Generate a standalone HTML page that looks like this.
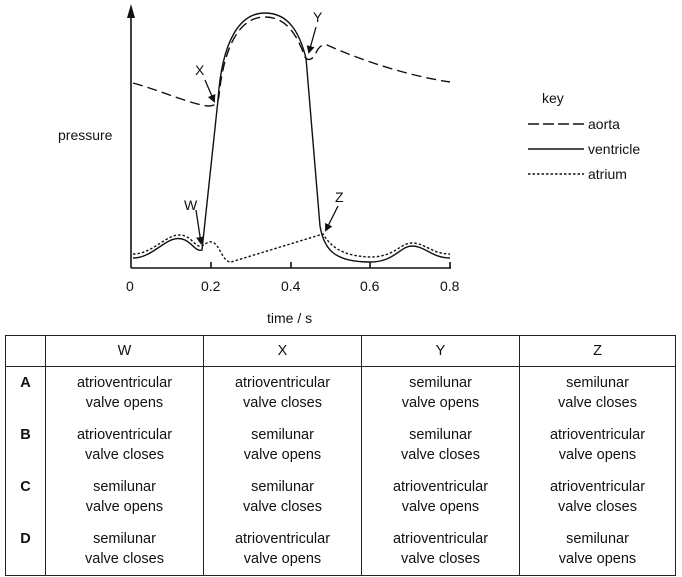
<!DOCTYPE html>
<html><head><meta charset="utf-8"><style>
body{margin:0;background:#fff;width:682px;height:577px;overflow:hidden;font-family:"Liberation Sans",Arial,sans-serif;color:#111}
svg text{font-family:"Liberation Sans",Arial,sans-serif;fill:#111}
table{position:absolute;left:5px;top:335px;border-collapse:collapse;font-size:14.5px;border:1px solid #222}
td{border-left:1px solid #222;border-right:1px solid #222;text-align:center;line-height:20px;padding:6px 0 0 0;vertical-align:top;height:46px}
tr.h td{border-bottom:1px solid #222;vertical-align:middle;padding:0;height:30px}
td.l{font-weight:bold}
</style></head><body>
<svg width="682" height="330" style="position:absolute;left:0;top:0">
<g stroke="#111" stroke-width="1.6" fill="none">
<line x1="131" y1="268" x2="131" y2="14"/>
<path d="M131,4 L127,18 L135,18 z" fill="#111" stroke="none"/>
<line x1="131" y1="268" x2="451" y2="268"/>
<line x1="211" y1="268" x2="211" y2="262"/><line x1="291" y1="268" x2="291" y2="262"/><line x1="370" y1="268" x2="370" y2="262"/><line x1="450" y1="268" x2="450" y2="262"/>
</g>
<defs><marker id="ar" markerWidth="8" markerHeight="8" refX="6" refY="4" orient="auto" markerUnits="userSpaceOnUse"><path d="M0,0 L8,4 L0,8 z" fill="#111"/></marker></defs>
<g fill="none" stroke="#111" stroke-width="1.4">
<path d="M133,258 C155,258 168,232 185,240 C193,244 196,252 202,250 L218,100 C222,40 240,13 265,13 C290,13 300,35 306,58 L320,226 C324,250 335,262 370,262 C395,262 400,246 412,246 C425,246 432,258 450,258"/>
<path stroke-dasharray="2.5,2" d="M133,254 C155,254 168,230 185,236 C193,239 196,248 202,246 C206,244 208,241 212,242 C220,244 222,262 231,262 L323,234 C330,245 340,256 370,257 C395,257 400,243 412,243 C425,243 432,254 450,254"/>
<path stroke-dasharray="10,5" d="M133,83 C165,92 190,104 208,106 C214,106 218,104 219,96 C224,45 240,17 265,17 C288,17 298,38 305,57 C307,61 312,60 315,55 C318,48 321,44 327,45 C365,62 410,76 450,82"/>
</g>
<g stroke="#111" stroke-width="1.3" marker-end="url(#ar)">
<line x1="205" y1="80" x2="214" y2="101"/>
<line x1="316" y1="27" x2="309" y2="52"/>
<line x1="196" y1="210" x2="201" y2="243"/>
<line x1="338" y1="206" x2="326" y2="230"/>
</g>
<g font-size="14">
<text x="195" y="75">X</text><text x="313" y="22">Y</text><text x="184" y="210">W</text><text x="335" y="202">Z</text>
<text x="58" y="140">pressure</text>
<text x="126" y="291">0</text><text x="201" y="291">0.2</text><text x="281" y="291">0.4</text><text x="360" y="291">0.6</text><text x="440" y="291">0.8</text>
<text x="267" y="323">time / s</text>
<text x="542" y="103">key</text>
<text x="588" y="129">aorta</text><text x="588" y="154">ventricle</text><text x="588" y="179">atrium</text>
</g>
<g stroke="#111" stroke-width="1.4">
<line x1="528" y1="124" x2="584" y2="124" stroke-dasharray="11,4"/>
<line x1="528" y1="149" x2="584" y2="149"/>
<line x1="528" y1="174" x2="584" y2="174" stroke-dasharray="2.5,2"/>
</g>
</svg>
<table>
<tr class="h"><td style="width:39px"></td><td style="width:157px">W</td><td style="width:157px">X</td><td style="width:157px">Y</td><td style="width:155px">Z</td></tr>
<tr><td class="l">A</td><td>atrioventricular<br>valve opens</td><td>atrioventricular<br>valve closes</td><td>semilunar<br>valve opens</td><td>semilunar<br>valve closes</td></tr>
<tr><td class="l">B</td><td>atrioventricular<br>valve closes</td><td>semilunar<br>valve opens</td><td>semilunar<br>valve closes</td><td>atrioventricular<br>valve opens</td></tr>
<tr><td class="l">C</td><td>semilunar<br>valve opens</td><td>semilunar<br>valve closes</td><td>atrioventricular<br>valve opens</td><td>atrioventricular<br>valve closes</td></tr>
<tr><td class="l">D</td><td>semilunar<br>valve closes</td><td>atrioventricular<br>valve opens</td><td>atrioventricular<br>valve closes</td><td>semilunar<br>valve opens</td></tr>
</table>
</body></html>
